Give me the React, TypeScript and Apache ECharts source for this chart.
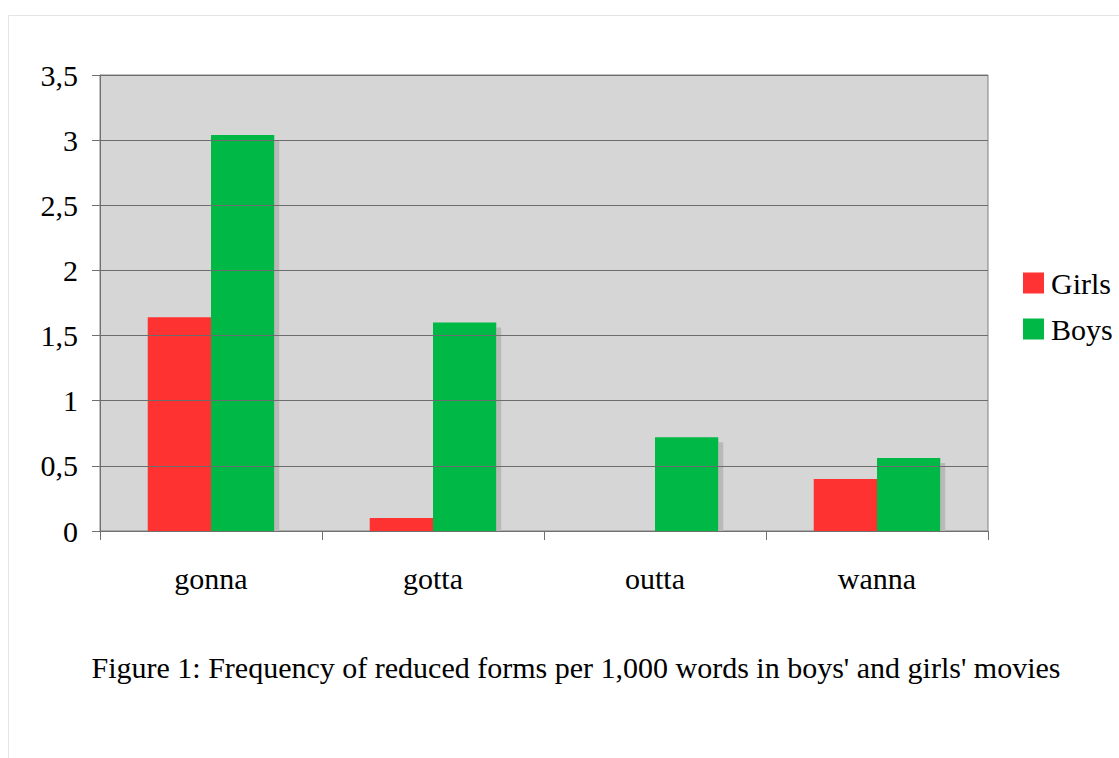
import React, { useEffect, useRef } from "react";
import * as echarts from "echarts";

const categories = ["gonna", "gotta", "outta", "wanna"];
const girls = [1.64, 0.1, 0, 0.4];
const boys = [3.04, 1.6, 0.72, 0.56];
const yTicks = { min: 0, max: 3.5, interval: 0.5 };
const caption = "Figure 1: Frequency of reduced forms per 1,000 words in boys' and girls' movies";

const FONT = "'Liberation Serif', 'Times New Roman', serif";

export default function App() {
  const ref = useRef<HTMLDivElement>(null);
  useEffect(() => {
    document.body.style.margin = "0";
    const chart = echarts.init(ref.current!, null, { renderer: "svg" });
    const shadow = {
      shadowColor: "#b9b9b9",
      shadowOffsetX: 5,
      shadowOffsetY: 5,
      shadowBlur: 0,
    };
    chart.setOption({
      animation: false,
      backgroundColor: "#ffffff",
      grid: {
        left: 100,
        top: 75,
        right: 131,
        bottom: 227,
        show: true,
        backgroundColor: "#d6d6d6",
        borderColor: "#808080",
        borderWidth: 1,
      },
      legend: {
        orient: "vertical",
        left: 1023,
        top: 268,
        padding: 0,
        itemWidth: 21,
        itemHeight: 21,
        itemGap: 16,
        icon: "rect",
        data: ["Girls", "Boys"],
        textStyle: { fontFamily: FONT, fontSize: 30, color: "#000", lineHeight: 30, padding: [0, 0, 0, 2] },
      },
      xAxis: {
        type: "category",
        data: categories,
        z: 10,
        axisLine: { lineStyle: { color: "#707070", width: 1 } },
        axisTick: { show: true, length: 9, alignWithLabel: false, lineStyle: { color: "#707070" } },
        axisLabel: { fontFamily: FONT, fontSize: 30, color: "#000", margin: 32 },
      },
      yAxis: {
        type: "value",
        min: yTicks.min,
        max: yTicks.max,
        interval: yTicks.interval,
        z: 10,
        axisLine: { show: true, lineStyle: { color: "#707070", width: 1 } },
        axisTick: { show: true, length: 8, lineStyle: { color: "#707070" } },
        splitLine: { show: true, lineStyle: { color: "#6c6c6c", width: 1 } },
        axisLabel: {
          fontFamily: FONT,
          fontSize: 30,
          color: "#000",
          margin: 22,
          formatter: (v: number) => String(v).replace(".", ","),
        },
      },
      series: [
        {
          name: "Girls",
          type: "bar",
          data: girls,
          barGap: "0%",
          barCategoryGap: "43%",
          itemStyle: { color: "#ff3333", ...shadow },
        },
        {
          name: "Boys",
          type: "bar",
          data: boys,
          barGap: "0%",
          barCategoryGap: "43%",
          itemStyle: { color: "#00b845", ...shadow },
        },
      ],
      graphic: [
        {
          type: "rect",
          z: 5,
          silent: true,
          shape: { x: 100, y: 532, width: 888, height: 7 },
          style: { fill: "#ffffff" },
        },
        {
          type: "rect",
          z: 0,
          silent: true,
          shape: { x: 8.5, y: 15.5, width: 1200, height: 800 },
          style: { fill: "none", stroke: "#e4e4e4", lineWidth: 1 },
        },
        {
          type: "text",
          x: 576,
          y: 667,
          style: {
            text: caption,
            fontFamily: FONT,
            fontSize: 30,
            fill: "#000",
            textAlign: "center",
            textVerticalAlign: "middle",
          },
        },
      ],
    });
    return () => chart.dispose();
  }, []);
  return <div ref={ref} style={{ width: 1119, height: 758 }} />;
}
